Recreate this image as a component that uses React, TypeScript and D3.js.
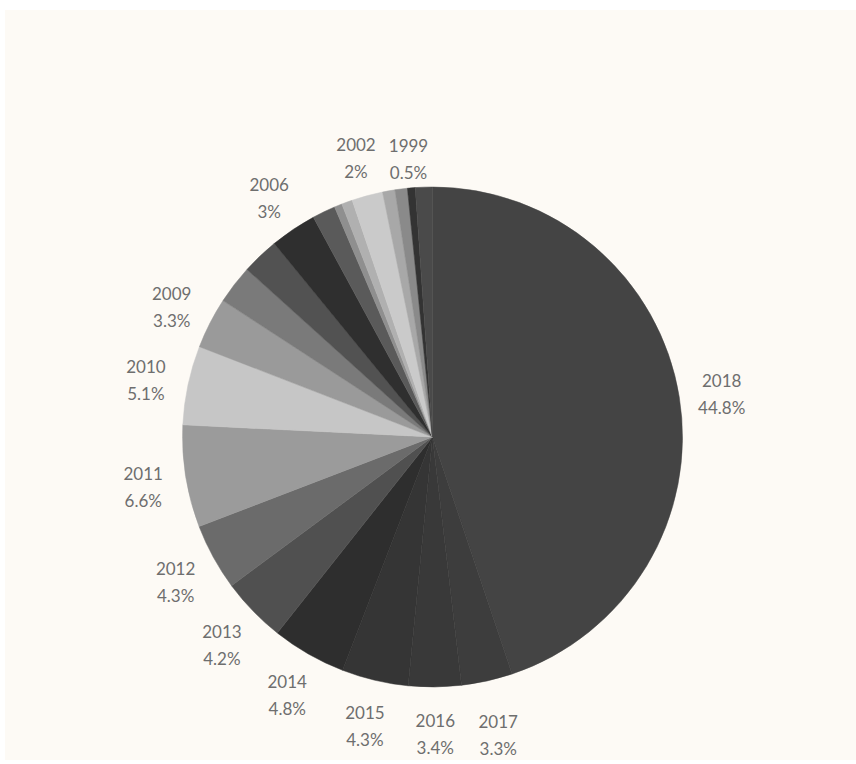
import React from "react";
import * as d3 from "d3";

const years = ["2018","2017","2016","2015","2014","2013","2012","2011","2010","2009","2008","2007","2006","2005","2004","2003","2002","2001","2000","1999","1998"];
const shares = [44.8,3.3,3.4,4.3,4.8,4.2,4.3,6.6,5.1,3.3,2.5,2.4,3,1.5,0.5,0.7,2,0.8,0.8,0.5,1.1];
const colors = ["#444444","#3d3d3d","#393939","#353535","#2e2e2e","#505050","#6b6b6b","#9b9b9b","#c6c6c6","#9a9a9a","#7a7a7a","#525252","#2f2f2f","#5a5a5a","#8f8f8f","#b0b0b0","#cacaca","#a8a8a8","#8a8a8a","#333333","#4a4a4a"];
const labeled = ["2018","2017","2016","2015","2014","2013","2012","2011","2010","2009","2006","2002","1999"];
const pctText = ["44.8%","3.3%","3.4%","4.3%","4.8%","4.2%","4.3%","6.6%","5.1%","3.3%","","","3%","","","","2%","","","0.5%",""];

export default function App() {
  const W = 856, H = 764;
  const cx = 432.5, cy = 437, R = 250, LR = 293;
  const data = years.map((y, i) => ({ year: y, value: shares[i], color: colors[i], pct: pctText[i] }));
  const pie = d3.pie<any>().sort(null).value((d) => d.value);
  const arcs = pie(data);
  const arc = d3.arc<any>().innerRadius(0).outerRadius(R);
  return (
    <svg width={W} height={H} style={{ position: "fixed", left: 0, top: 0 }}>
      <rect x={0} y={0} width={W} height={H} fill="#ffffff" />
      <rect x={5} y={10} width={W - 5} height={750} fill="#fdfaf5" />
      <g transform={`translate(${cx},${cy})`}>
        {arcs.map((a, i) => (
          <path key={i} d={arc(a) as string} fill={a.data.color} stroke={a.data.color} strokeWidth={0.5} />
        ))}
        {arcs.filter((a) => labeled.includes(a.data.year)).map((a, i) => {
          const mid = (a.startAngle + a.endAngle) / 2;
          let lr = LR;
          if (a.data.year === "2017") lr = 301;
          if (a.data.year === "1999") lr = 283;
          const x = lr * Math.sin(mid);
          const y = -lr * Math.cos(mid);
          return (
            <text key={i} x={x} y={y} textAnchor="middle" fontFamily="Lato, 'Open Sans', sans-serif" fontSize={17} fill="#6e6e6e">
              <tspan x={x} dy={-3}>{a.data.year}</tspan>
              <tspan x={x} dy={27}>{a.data.pct}</tspan>
            </text>
          );
        })}
      </g>
    </svg>
  );
}
